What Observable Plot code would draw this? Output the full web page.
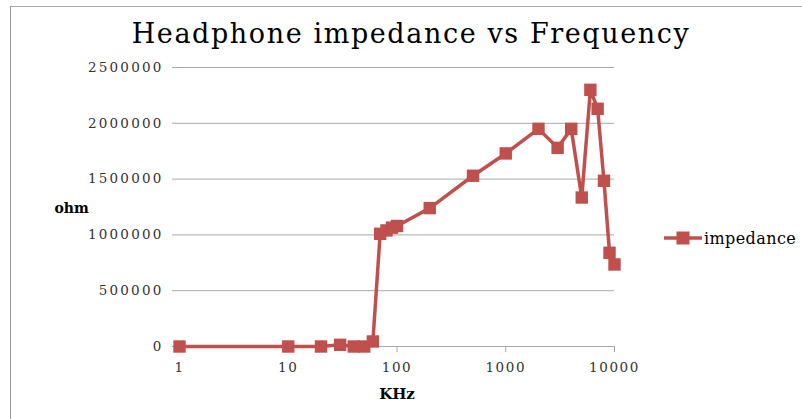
<!DOCTYPE html>
<html>
<head>
<meta charset="utf-8">
<script src="https://cdn.jsdelivr.net/npm/d3@7"></script>
<script src="https://cdn.jsdelivr.net/npm/@observablehq/plot@0.6"></script>
<style>
  html, body { margin: 0; padding: 0; background: #fff; }
  #wrap { position: relative; width: 802px; height: 419px; overflow: hidden; background: #fff; }
  #border { position: absolute; left: 10px; top: 6px; right: -5px; bottom: -5px; border-left: 1px solid #999; border-top: 1px solid #aaa; }
  #title { position: absolute; left: 20px; top: 0; width: 782px; height: 60px; text-align: center;
           font-family: "DejaVu Serif", serif; font-size: 27px; line-height: 1; padding-top: 20px; box-sizing: border-box; color: #000; letter-spacing: 1.6px; }
  #chart { position: absolute; left: 0; top: 60px; }
  #chart g[aria-label="y-axis tick label"] text { letter-spacing: 2.2px; }
  #chart g[aria-label="x-axis tick label"] text { letter-spacing: 1.6px; }
  #legend { position: absolute; left: 664px; top: 228px; display: flex; align-items: center; font-family: "DejaVu Serif", serif; font-size: 16px; color: #000; }
</style>
</head>
<body>
<div id="wrap">
  <div id="border"></div>
  <div id="title">Headphone impedance vs Frequency</div>
  <div id="chart"></div>
  <div id="legend"></div>
</div>
<script>
// Data
const frequencyKHz = [1, 10, 20, 30, 40, 50, 60, 70, 80, 90, 100, 200, 500, 1000, 2000, 3000, 4000, 5000, 6000, 7000, 8000, 9000, 10000];
const impedanceOhm = [0, 0, 0, 15000, 0, 0, 45000, 1010000, 1040000, 1065000, 1080000, 1240000, 1530000, 1730000, 1950000, 1780000, 1950000, 1335000, 2300000, 2130000, 1485000, 840000, 735000];
const xTicks = [1, 10, 100, 1000, 10000];
const yTicks = [0, 500000, 1000000, 1500000, 2000000, 2500000];
const seriesName = "impedance";
const xLabel = "KHz";
const yLabel = "ohm";

const color = "#C0504D";
const data = frequencyKHz.map((f, i) => ({f, z: impedanceOhm[i]}));

const chart = Plot.plot({
  width: 802,
  height: 359,
  marginLeft: 179,
  marginRight: 188,
  marginTop: 7,
  marginBottom: 73,
  style: {fontFamily: "DejaVu Serif, serif", fontSize: "13.5px", background: "transparent", color: "#333"},
  x: {type: "log", domain: [1, 10000]},
  y: {domain: [0, 2500000]},
  marks: [
    Plot.ruleY(yTicks, {stroke: "#a8a8a8", strokeWidth: 1}),
    Plot.axisY({ticks: yTicks, tickSize: 7, tickPadding: 9, stroke: "#a8a8a8", fill: "#333", label: null,
                tickFormat: d => String(d)}),
    Plot.axisX({ticks: xTicks, tickSize: 6, tickPadding: 10, stroke: "#a8a8a8", fill: "#333", label: null,
                tickFormat: d => String(d)}),
    Plot.line(data, {x: "f", y: "z", stroke: color, strokeWidth: 3.5}),
    Plot.dot(data, {x: "f", y: "z", symbol: "square", r: 7, fill: color, stroke: null}),
    Plot.text([yLabel], {frameAnchor: "left", dx: -125, dy: 2, text: d => d, fontWeight: "bold", fontSize: 14, fill: "#000"}),
    Plot.text([xLabel], {frameAnchor: "bottom", dy: 52, text: d => d, fontWeight: "bold", fontSize: 15, fill: "#000"})
  ]
});
document.getElementById("chart").appendChild(chart);

const legend = document.getElementById("legend");
legend.innerHTML = `<svg width="40" height="20" style="display:block"><line x1="0" y1="10" x2="38" y2="10" stroke="${color}" stroke-width="3.5"/><rect x="12.5" y="3.5" width="13" height="13" fill="${color}"/></svg><span style="letter-spacing:0.4px">${seriesName}</span>`;
</script>
</body>
</html>
